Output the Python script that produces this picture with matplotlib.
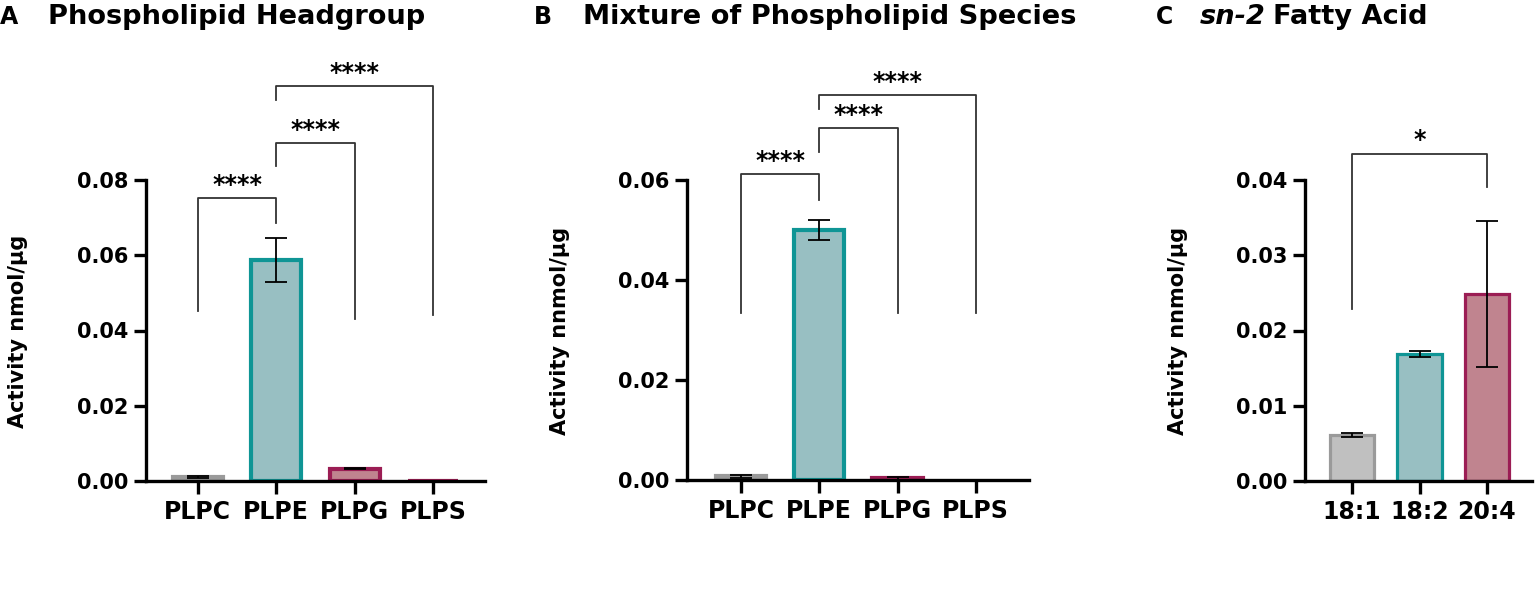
import matplotlib as mpl
import matplotlib.pyplot as plt

mpl.rcParams['font.family'] = 'DejaVu Sans'
mpl.rcParams['font.weight'] = 'bold'

# panel A: headgroup
cats_a = ['PLPC', 'PLPE', 'PLPG', 'PLPS']
vals_a = [0.0011, 0.0588, 0.0033, 0.0001]
errs_a = [0.0002, 0.0059, 0.0002, 0.0000]
# brackets: (i, j, top, left leg end, right leg end, label, label y)
sig_a = [(0, 1, 0.0752, 0.0452, 0.0686, '****', 0.0756),
         (1, 2, 0.0898, 0.0837, 0.0431, '****', 0.0901),
         (1, 3, 0.1050, 0.1013, 0.0441, '****', 0.1053)]

# panel B: mixture
cats_b = ['PLPC', 'PLPE', 'PLPG', 'PLPS']
vals_b = [0.0008, 0.0500, 0.0004, 0.0000]
errs_b = [0.0003, 0.0020, 0.0003, 0.0000]
sig_b = [(0, 1, 0.0612, 0.0334, 0.0560, '****', 0.0615),
         (1, 2, 0.0704, 0.0656, 0.0334, '****', 0.0707),
         (1, 3, 0.0770, 0.0742, 0.0334, '****', 0.0773)]

# panel C: sn-2 fatty acid
cats_c = ['18:1', '18:2', '20:4']
vals_c = [0.0061, 0.0169, 0.0249]
errs_c = [0.0003, 0.0004, 0.0097]
sig_c = [(0, 2, 0.0435, 0.0229, 0.0391, '*', 0.0437)]

fills = ['#c0c0c0', '#98bfc2', '#c0848f', '#c0848f']
edges = ['#9a9a9a', '#0f9595', '#9b1d54', '#9b1d54']
fills_c = ['#c0c0c0', '#98bfc2', '#c0848f']
edges_c = ['#9a9a9a', '#0f9595', '#9b1d54']

W, H = 1536, 591
fig = plt.figure(figsize=(W/100, H/100), dpi=100)

def px_axes(l, r, t, b):
  return fig.add_axes([l/W, (H-b)/H, (r-l)/W, (b-t)/H])

def panel(ax, cats, vals, errs, sig, fc, ec, ymax, yticks, xlim, bw, elw):
  x = range(len(cats))
  lws = [elw if v > 0 else 0 for v in vals]
  ax.bar(x, vals, width=bw, color=fc, edgecolor=ec, linewidth=lws, zorder=2)
  ax.errorbar(x, vals, yerr=errs, fmt='none', ecolor='black', elinewidth=1.3,
              capsize=8, capthick=1.3, zorder=3)
  for i, j, top, l1, l2, lab, ty in sig:
    ax.plot([i, i, j, j], [l1, top, top, l2], color='#333333', lw=1.3, clip_on=False)
    ax.text((i+j)/2., ty, lab, ha='center', va='bottom', fontsize=17, fontweight='bold', clip_on=False)
  ax.set_ylim(0, ymax)
  ax.set_xlim(*xlim)
  ax.set_yticks(yticks)
  ax.set_yticklabels(['%.2f' % v for v in yticks])
  ax.set_xticks(list(x))
  ax.set_xticklabels(cats)
  for s in ['top', 'right']:
    ax.spines[s].set_visible(False)
  for s in ['left', 'bottom']:
    ax.spines[s].set_linewidth(2.4)
  ax.tick_params(axis='both', width=2.4, length=9)
  ax.tick_params(axis='y', labelsize=15, pad=4)
  ax.tick_params(axis='x', labelsize=17, pad=5)

ax_a = px_axes(146, 485, 180, 481)
panel(ax_a, cats_a, vals_a, errs_a, sig_a, fills, edges, 0.08,
      [0, 0.02, 0.04, 0.06, 0.08], (-0.66, 3.66), 0.64, 3.0)
ax_b = px_axes(687, 1029, 180, 480)
panel(ax_b, cats_b, vals_b, errs_b, sig_b, fills, edges, 0.06,
      [0, 0.02, 0.04, 0.06], (-0.69, 3.68), 0.64, 3.0)
ax_c = px_axes(1305, 1532, 180, 481)
panel(ax_c, cats_c, vals_c, errs_c, sig_c, fills_c, edges_c, 0.04,
      [0, 0.01, 0.02, 0.03, 0.04], (-0.70, 2.67), 0.66, 2.3)

# y labels
fig.text(18/W, 1-331/H, 'Activity nmol/µg', fontsize=15, fontweight='bold',
         rotation=90, ha='center', va='center')
fig.text(560/W, 1-331/H, 'Activity nnmol/µg', fontsize=15, fontweight='bold',
         rotation=90, ha='center', va='center')
fig.text(1178/W, 1-331/H, 'Activity nnmol/µg', fontsize=15, fontweight='bold',
         rotation=90, ha='center', va='center')

# panel letters and titles
fig.text(0/W, 1-17/H, 'A', fontsize=17, fontweight='bold', va='center')
fig.text(48/W, 1-17/H, 'Phospholipid Headgroup', fontsize=19.6, fontweight='bold', va='center')
fig.text(534/W, 1-17/H, 'B', fontsize=17, fontweight='bold', va='center')
fig.text(583/W, 1-17/H, 'Mixture of Phospholipid Species', fontsize=19.6, fontweight='bold', va='center')
fig.text(1156/W, 1-17/H, 'C', fontsize=17, fontweight='bold', va='center')
fig.text(1200/W, 1-17/H, 'sn-2', fontsize=19.6, fontweight='bold', style='italic', va='center')
fig.text(1273/W, 1-17/H, 'Fatty Acid', fontsize=19.6, fontweight='bold', va='center')

plt.savefig('out.png', dpi=100)
